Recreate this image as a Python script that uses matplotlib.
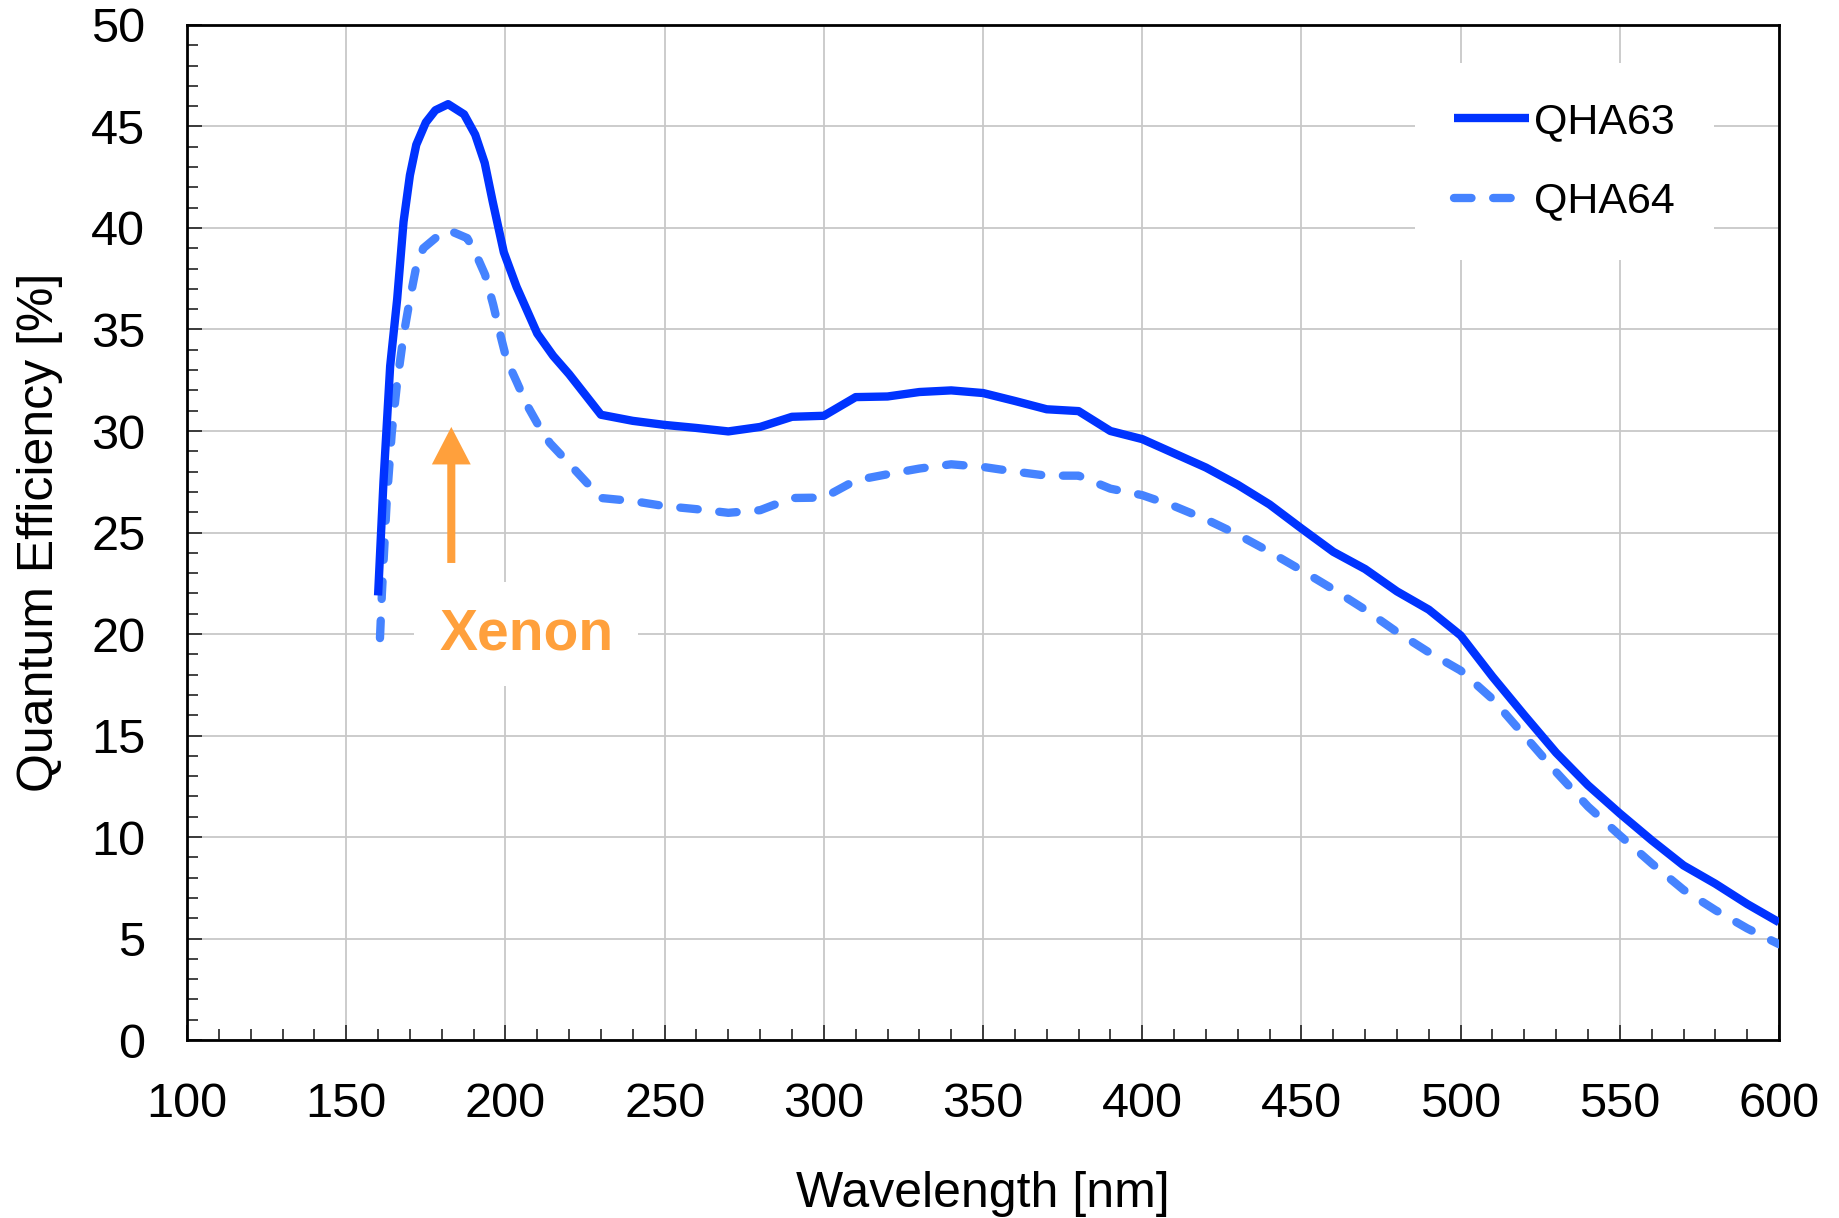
"""Quantum efficiency vs wavelength for QHA63 / QHA64, with the Xenon line marked."""
import matplotlib
matplotlib.use("Agg")
import matplotlib.pyplot as plt
from matplotlib.ticker import MultipleLocator

plt.rcParams["font.family"] = ["Liberation Sans", "DejaVu Sans"]

# QHA63 (solid)
WL_63 = [160, 161.7, 163.8, 166, 168, 170, 172, 175, 178, 182, 187, 190.5, 193.5,
         196, 199.5, 203.5, 210, 215, 220, 225, 230, 240, 250, 260, 270, 280, 290,
         300, 310, 320, 330, 340, 350, 360, 370, 380, 390, 400, 410, 420, 430, 440,
         450, 460, 470, 480, 490, 500, 510, 520, 530, 540, 550, 560, 570, 580, 590, 600]
QE_63 = [21.9, 27.5, 33.2, 36.5, 40.3, 42.6, 44.1, 45.2, 45.8, 46.1, 45.6, 44.6, 43.2,
         41.3, 38.8, 37.1, 34.8, 33.7, 32.8, 31.8, 30.8, 30.5, 30.3, 30.15, 29.98, 30.2,
         30.7, 30.75, 31.67, 31.7, 31.92, 32.0, 31.87, 31.48, 31.07, 30.98, 30.0, 29.6,
         28.9, 28.2, 27.35, 26.38, 25.2, 24.05, 23.2, 22.1, 21.2, 19.93, 17.9, 16.0,
         14.15, 12.55, 11.16, 9.84, 8.6, 7.7, 6.7, 5.8]

# QHA64 (dashed)
WL_64 = [160.6, 161.2, 162.7, 164.3, 166, 168, 170, 172, 174.2, 178, 182, 188, 190.5,
         193.6, 196.2, 198.3, 200.4, 203.6, 206.7, 211, 214, 217, 223.5, 230, 240, 250,
         260, 270, 280, 290, 300, 310, 320, 330, 340, 350, 360, 370, 380, 390, 400, 410,
         420, 430, 440, 450, 460, 470, 480, 490, 500, 510, 520, 530, 540, 550, 560, 570,
         580, 590, 600]
QE_64 = [19.8, 22.0, 26.5, 29.9, 32.4, 34.7, 36.5, 38.1, 39.0, 39.5, 39.9, 39.5, 38.8,
         37.7, 36.2, 34.8, 33.5, 32.4, 31.3, 30.1, 29.4, 28.9, 27.8, 26.7, 26.55, 26.3,
         26.15, 25.97, 26.1, 26.7, 26.72, 27.57, 27.87, 28.15, 28.36, 28.23, 28.0, 27.8,
         27.8, 27.16, 26.84, 26.3, 25.65, 24.9, 24.05, 23.14, 22.2, 21.2, 20.1, 19.1, 18.2,
         16.8, 15.0, 13.2, 11.5, 10.08, 8.7, 7.4, 6.4, 5.5, 4.72]

XENON_WL = 183
XENON_ARROW = (23.5, 30.2)

BLUE = "#0033ff"
LIGHT_BLUE = "#4583ff"
ORANGE = "#ffa03c"


def main() -> None:
    fig = plt.figure(figsize=(18.39, 12.18), dpi=100)
    ax = fig.add_axes([0.1017, 0.1461, 0.8657, 0.8334])

    ax.plot(WL_63, QE_63, color=BLUE, lw=6.0, solid_capstyle="butt",
            solid_joinstyle="round", label="QHA63", zorder=4)
    ax.plot(WL_64, QE_64, color=LIGHT_BLUE, lw=6.0, linestyle=(0, (2.1, 2.6)),
            dash_capstyle="round", dash_joinstyle="round", label="QHA64", zorder=3)

    ax.set_xlim(100, 600)
    ax.set_ylim(0, 50)
    ax.xaxis.set_major_locator(MultipleLocator(50))
    ax.xaxis.set_minor_locator(MultipleLocator(10))
    ax.yaxis.set_major_locator(MultipleLocator(5))
    ax.yaxis.set_minor_locator(MultipleLocator(1))
    ax.tick_params(which="both", direction="in", top=False, right=False,
                   labelsize=35, width=1.2, color="#222222")
    ax.tick_params(which="major", length=11, pad=30)
    ax.tick_params(which="minor", length=8)
    ax.grid(True, which="major", color="#c8c8c8", lw=1.3, zorder=0)
    ax.set_axisbelow(True)
    for sp in ax.spines.values():
        sp.set_linewidth(2.0)

    ax.set_xlabel("Wavelength [nm]", fontsize=36, labelpad=32)
    ax.set_ylabel("Quantum Efficiency [%]", fontsize=36, labelpad=20)

    ax.annotate("", xy=(XENON_WL, XENON_ARROW[1]), xytext=(XENON_WL, XENON_ARROW[0]),
                arrowprops=dict(facecolor=ORANGE, edgecolor="none", width=5.8,
                                headwidth=28, headlength=27, shrink=0), zorder=5)
    ax.text(206.5, 20.0, "Xenon", ha="center", va="center", fontsize=41,
            fontweight="bold", color=ORANGE, zorder=5,
            bbox=dict(facecolor="white", edgecolor="none", pad=18))

    leg = ax.legend(loc="upper left", bbox_to_anchor=(0.7694, 0.948),
                    bbox_transform=fig.transFigure, fontsize=31, frameon=True,
                    facecolor="white", edgecolor="none", framealpha=1,
                    handlelength=1.75, handletextpad=0.12, labelspacing=0.92,
                    borderpad=0.9, borderaxespad=0)
    leg.get_frame().set_boxstyle("square", pad=0)

    fig.savefig("out.png", dpi=100)


if __name__ == "__main__":
    main()
